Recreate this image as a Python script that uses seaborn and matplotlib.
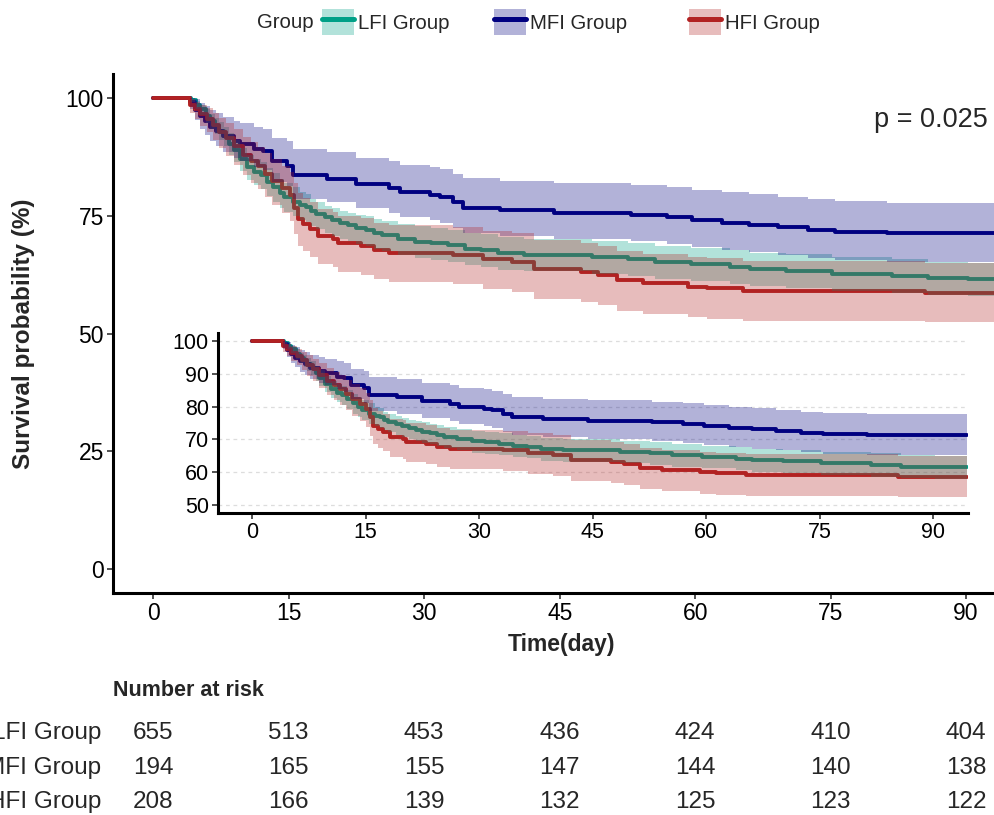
"""
Kaplan-Meier survival by frailty group, with zoomed inset and risk table.
"""

import pandas as pd
import seaborn as sns
import matplotlib.pyplot as plt
from matplotlib.patches import Patch
from matplotlib.lines import Line2D
from matplotlib.legend_handler import HandlerTuple
from matplotlib.transforms import blended_transform_factory

# ── Data ───────────────────────────────────────────────────────────────────────
GROUPS = ["LFI Group", "MFI Group", "HFI Group"]
COLORS = ["#00A087", "#000080", "#B22222"]

LFI_T = [0, 4.2, 4.7, 5.2, 5.8, 6.3, 6.8, 7.3, 7.8, 8.4, 8.9, 9.6, 10.4, 11.2, 11.9,
         12.6, 13.3, 14.0, 14.5, 15.5, 16.2, 16.9, 17.5, 18.0, 19.0, 19.8, 20.7, 21.6,
         22.5, 23.5, 24.4, 25.3, 27.1, 29.0, 30.8, 32.6, 34.5, 36.3, 38.2, 41.1, 48.6,
         52.6, 55.5, 59.5, 63.9, 66.1, 70.1, 75.2, 81.8, 85.8, 90.2, 94.5]
LFI_S = [100, 99.5, 98.5, 97.5, 96.2, 95.0, 94.0, 93.0, 91.8, 90.2, 88.8, 87.0, 85.3,
         84.3, 83.5, 82.2, 81.0, 79.8, 78.9, 77.9, 77.2, 76.8, 76.0, 75.4, 74.6, 74.0,
         73.4, 72.9, 72.4, 71.9, 71.3, 70.8, 70.1, 69.4, 69.1, 68.7, 68.0, 67.7, 67.0,
         66.7, 66.2, 65.8, 65.2, 64.7, 64.1, 63.6, 63.3, 62.7, 62.2, 61.7, 61.5, 61.5]
LFI_LO = [100, 99.0, 97.5, 96.3, 94.7, 93.3, 92.2, 91.0, 89.7, 87.9, 86.4, 84.4, 82.6,
          81.5, 80.6, 79.2, 77.9, 76.7, 75.8, 74.8, 74.0, 73.6, 72.8, 72.2, 71.3, 70.7,
          70.1, 69.5, 69.0, 68.5, 67.9, 67.4, 66.7, 65.9, 65.6, 65.2, 64.5, 64.2, 63.5,
          63.2, 62.7, 62.2, 61.6, 61.1, 60.5, 60.0, 59.7, 59.1, 58.6, 58.1, 57.9, 57.9]
LFI_HI = [100, 99.8, 99.2, 98.5, 97.5, 96.5, 95.7, 94.8, 93.8, 92.4, 91.1, 89.4, 87.9,
          87.0, 86.3, 85.1, 84.0, 82.8, 82.0, 81.0, 80.0, 79.5, 78.5, 77.8, 77.0, 76.5,
          76.0, 75.6, 75.2, 74.8, 74.3, 73.9, 73.3, 72.7, 72.4, 72.0, 71.4, 71.1, 70.4,
          70.1, 69.6, 69.2, 68.6, 68.1, 67.6, 67.1, 66.8, 66.2, 65.7, 65.2, 65.0, 65.0]

MFI_T = [0, 4.1, 4.6, 5.2, 5.7, 6.3, 7.0, 7.7, 8.9, 9.6, 11.2, 12.2, 13.1, 14.8, 15.5,
         19.2, 22.5, 26.1, 27.3, 30.6, 31.7, 33.2, 34.3, 38.4, 44.4, 52.9, 56.9, 59.7,
         63.0, 66.0, 69.2, 72.5, 75.5, 81.2, 94.5]
MFI_S = [100, 99.0, 97.4, 96.0, 95.0, 93.8, 93.0, 91.8, 90.9, 90.2, 89.2, 88.7, 86.5,
         85.6, 83.5, 82.8, 81.6, 80.8, 79.9, 79.3, 78.9, 77.8, 76.7, 76.1, 75.6, 75.2,
         74.7, 74.1, 73.5, 73.1, 72.6, 72.0, 71.5, 71.2, 71.2]
MFI_LO = [100, 97.6, 95.2, 93.4, 92.1, 90.7, 89.8, 88.4, 87.3, 86.5, 85.3, 84.6, 82.2,
          81.2, 78.6, 77.9, 76.5, 75.6, 74.6, 74.0, 73.5, 72.3, 71.2, 70.6, 70.0, 69.5,
          68.9, 68.3, 67.6, 67.2, 66.6, 66.0, 65.5, 65.2, 65.2]
MFI_HI = [100, 100, 99.6, 98.9, 98.2, 97.4, 96.8, 95.8, 95.1, 94.6, 93.8, 93.4, 91.5,
          90.8, 89.0, 88.4, 87.3, 86.6, 85.8, 85.3, 84.9, 83.9, 82.9, 82.4, 81.9, 81.5,
          81.0, 80.4, 79.9, 79.5, 79.0, 78.5, 78.0, 77.7, 77.7]

HFI_T = [0, 4.1, 4.6, 5.2, 5.9, 6.6, 7.3, 8.1, 8.9, 9.9, 10.8, 11.6, 12.4, 13.2, 14.2,
         15.1, 15.6, 16.0, 16.6, 17.3, 18.2, 19.9, 20.4, 23.0, 24.4, 26.1, 33.2, 36.5,
         39.7, 42.2, 47.4, 49.2, 51.3, 54.2, 59.2, 61.3, 65.3, 85.4, 94.5]
HFI_S = [100, 98.5, 97.5, 96.5, 95.5, 94.2, 92.8, 91.5, 89.8, 87.9, 86.5, 85.4, 83.8,
         82.3, 80.8, 79.3, 76.7, 74.2, 73.2, 72.2, 70.6, 70.1, 69.1, 68.6, 67.6, 67.1,
         66.6, 65.8, 65.2, 63.7, 63.1, 62.4, 61.3, 60.6, 59.9, 59.6, 59.1, 58.6, 58.6]
HFI_LO = [100, 96.8, 95.4, 94.0, 92.7, 91.1, 89.3, 87.7, 85.7, 83.5, 81.9, 80.6, 78.9,
          77.2, 75.5, 73.9, 71.1, 68.5, 67.4, 66.3, 64.7, 64.1, 63.1, 62.5, 61.5, 61.0,
          60.4, 59.5, 58.9, 57.3, 56.7, 56.0, 54.8, 54.1, 53.4, 53.1, 52.6, 52.5, 52.5]
HFI_HI = [100, 99.6, 99.0, 98.4, 97.7, 96.8, 95.7, 94.7, 93.3, 91.7, 90.5, 89.6, 88.2,
          86.9, 85.6, 84.3, 81.9, 79.7, 78.8, 77.8, 76.3, 75.8, 74.9, 74.4, 73.5, 73.0,
          72.5, 71.8, 71.2, 69.8, 69.2, 68.6, 67.5, 66.8, 66.2, 65.9, 65.4, 64.9, 64.9]

RISK_TIMES = [0, 15, 30, 45, 60, 75, 90]
RISK_LFI = [655, 513, 453, 436, 424, 410, 404]
RISK_MFI = [194, 165, 155, 147, 144, 140, 138]
RISK_HFI = [208, 166, 139, 132, 125, 123, 122]
P_TEXT = "p = 0.025"

# ── Long table ─────────────────────────────────────────────────────────────────
parts = []
for g, t, s, lo, hi in [("LFI Group", LFI_T, LFI_S, LFI_LO, LFI_HI),
                        ("MFI Group", MFI_T, MFI_S, MFI_LO, MFI_HI),
                        ("HFI Group", HFI_T, HFI_S, HFI_LO, HFI_HI)]:
    parts.append(pd.DataFrame({"time": t, "surv": s, "lower": lo, "upper": hi, "group": g}))
curves = pd.concat(parts, ignore_index=True)
risk = {"LFI Group": RISK_LFI, "MFI Group": RISK_MFI, "HFI Group": RISK_HFI}

# ── Style ──────────────────────────────────────────────────────────────────────
sns.set_style("ticks")
plt.rcParams["font.family"] = ["Liberation Sans", "DejaVu Sans"]
W, H = 995, 815


def draw_km(ax, lw):
    sns.lineplot(data=curves, x="time", y="surv", hue="group", hue_order=GROUPS,
                 palette=COLORS, drawstyle="steps-post", estimator=None, sort=False,
                 lw=lw, legend=False, ax=ax, zorder=2)
    for g, c in zip(GROUPS, COLORS):
        sub = curves[curves["group"] == g]
        ax.fill_between(sub["time"], sub["lower"], sub["upper"], step="post",
                        color=c, alpha=0.3, lw=0, zorder=3)


def style_axes(ax, labelsize):
    for side in ["top", "right"]:
        ax.spines[side].set_visible(False)
    for side in ["left", "bottom"]:
        ax.spines[side].set_linewidth(2.2)
        ax.spines[side].set_color("black")
    ax.tick_params(length=4.5, width=1.2, color="#333333", labelsize=labelsize,
                   labelcolor="black", pad=2)


fig = plt.figure(figsize=(W / 100, H / 100), dpi=100)

# ── Main plot ──────────────────────────────────────────────────────────────────
ax = fig.add_axes([113 / W, 1 - 593 / H, (W - 113) / W, (593 - 74) / H])
draw_km(ax, 2.8)
style_axes(ax, 16.5)
ax.set_xlim(-4.46, 93.2)
ax.set_ylim(-5, 105)
ax.set_xticks(RISK_TIMES)
ax.set_yticks([0, 25, 50, 75, 100])
ax.set_xlabel("Time(day)", fontsize=16.5, fontweight="bold")
ax.set_ylabel("Survival probability (%)", fontsize=17.5, fontweight="bold")
ax.xaxis.set_label_coords(0.508, -0.077)
ax.yaxis.set_label_coords(-0.088, 0.5)
fig.text(988 / W, 1 - 127 / H, P_TEXT, ha="right", va="baseline", fontsize=19.5)

# ── Inset ──────────────────────────────────────────────────────────────────────
axin = fig.add_axes([218 / W, 1 - 513 / H, 750 / W, 180 / H])
axin.set_facecolor("white")
draw_km(axin, 2.8)
style_axes(axin, 15.5)
axin.set_xlim(-4.5, 94.6)
axin.set_ylim(47.5, 102.5)
axin.set_xticks(RISK_TIMES)
axin.set_yticks([50, 60, 70, 80, 90, 100])
axin.yaxis.grid(True, ls=(0, (3, 3)), color="#DDDDDD", lw=0.9)
axin.set_xlabel("")
axin.set_ylabel("")

# ── Legend ─────────────────────────────────────────────────────────────────────
fig.text(257 / W, 1 - 22 / H, "Group", ha="left", va="center", fontsize=14.7)
for g, c, x0 in zip(GROUPS, COLORS, [322, 494, 689]):
    handle = (Patch(facecolor=c, alpha=0.3, lw=0), Line2D([], [], color=c, lw=3.6))
    fig.legend([handle], [g], handler_map={tuple: HandlerTuple(ndivide=1)},
               loc="center left", bbox_to_anchor=(x0 / W, 1 - 22 / H),
               frameon=False, borderpad=0, borderaxespad=0, handletextpad=0.2,
               handlelength=1.57, handleheight=1.57, fontsize=14.7)

# ── Risk table ─────────────────────────────────────────────────────────────────
trans = blended_transform_factory(ax.transData, fig.transFigure)
fig.text(113 / W, 1 - 690 / H, "Number at risk", ha="left", va="center",
         fontsize=15.5, fontweight="bold")
for g, y in zip(GROUPS, [733, 768, 802]):
    fig.text(101 / W, 1 - y / H, g, ha="right", va="center", fontsize=17.5)
    for t, n in zip(RISK_TIMES, risk[g]):
        ax.text(t, 1 - y / H, str(n), transform=trans, ha="center", va="center",
                fontsize=17.5, clip_on=False)

plt.savefig("out.png", dpi=100)
